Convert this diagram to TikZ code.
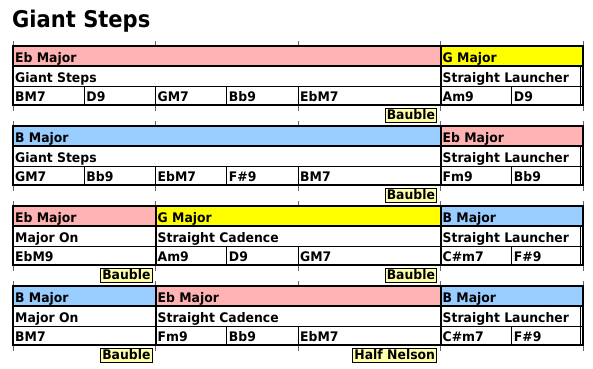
\documentclass[tikz,border=0pt]{standalone}
\usepackage{fontspec}
\setmainfont{DejaVu Sans}[FakeStretch=0.94]
\newfontfamily\titlefont{DejaVu Sans}[FakeStretch=0.915]
\definecolor{pinkkey}{HTML}{FFB3B3}
\definecolor{bluekey}{HTML}{99CCFF}
\definecolor{yellowkey}{HTML}{FFFF00}
\definecolor{tagfill}{HTML}{FFFFAA}
\definecolor{tickgray}{HTML}{666666}
\tikzset{
 lbl/.style={inner sep=0pt, anchor=base west, font=\fontsize{13.2}{15}\selectfont\bfseries},
 frameline/.style={line width=2pt},
 ruleline/.style={line width=1pt},
 tickline/.style={line width=1pt, draw=tickgray},
 tagbox/.style={draw, line width=1pt, fill=tagfill, inner xsep=1.5pt, inner ysep=0.6pt,
   text height=10.2pt, text depth=2.6pt, anchor=north east,
   font=\fontsize{13.2}{15}\selectfont\bfseries}
}
% #1 name, #2 x1, #3 x2, #4 top, #5 fill, #6 key, #7 section
\newcommand\gsFrame[7]{%
 \fill[#5] (#2,#4) rectangle (#3,#4+20);
 \draw[ruleline] (#2,#4+40.5) -- (#3,#4+40.5);
 \draw[frameline] (#2,#4+20) -- (#3,#4+20);
 \draw[frameline] (#2,#4) rectangle (#3,#4+59);
 \node[lbl] (#1key) at (#2+2,#4+16.7) {#6};
 \node[lbl] (#1sec) at (#2+2,#4+36.7) {#7};
}
% #1 name, #2 x, #3 top, #4 text
\newcommand\gsChord[4]{%
 \draw[ruleline] (#2,#3+40.5) -- (#2,#3+59);
 \node[lbl] (#1) at (#2+2,#3+55.7) {#4};
}
% #1 top
\newcommand\gsInner[1]{%
 \draw[ruleline] (580.5,#1+20) -- (580.5,#1+59);
}
\begin{document}
\begin{tikzpicture}[x=1pt,y=-1pt]
\useasboundingbox (0,0) rectangle (593,368);
\node[inner sep=0pt, anchor=base west, font=\fontsize{23}{26}\titlefont\bfseries] (title) at (12,27) {Giant Steps};

\foreach \t in {46,126,206,286}{
  \foreach \bx in {13,155.5,298,440.5,583}{
    \draw[tickline] (\bx,\t-5) -- (\bx,\t);
    \draw[tickline] (\bx,\t+59) -- (\bx,\t+65);
  }
}

% Row 1
\gsFrame{ra}{13}{440.5}{46}{pinkkey}{Eb Major}{Giant Steps}
\gsChord{raa}{13}{46}{BM7}
\gsChord{rab}{84.25}{46}{D9}
\gsChord{rac}{155.5}{46}{GM7}
\gsChord{rad}{226.75}{46}{Bb9}
\gsChord{rae}{298}{46}{EbM7}
\gsFrame{rb}{440.5}{583}{46}{yellowkey}{G Major}{Straight Launcher}
\gsChord{rba}{440.5}{46}{Am9}
\gsChord{rbb}{511.75}{46}{D9}
\gsInner{46}
\node[tagbox] (tagA) at (437,46+62.2) {Bauble};

% Row 2
\gsFrame{sa}{13}{440.5}{126}{bluekey}{B Major}{Giant Steps}
\gsChord{saa}{13}{126}{GM7}
\gsChord{sab}{84.25}{126}{Bb9}
\gsChord{sac}{155.5}{126}{EbM7}
\gsChord{sad}{226.75}{126}{F\#9}
\gsChord{sae}{298}{126}{BM7}
\gsFrame{sb}{440.5}{583}{126}{pinkkey}{Eb Major}{Straight Launcher}
\gsChord{sba}{440.5}{126}{Fm9}
\gsChord{sbb}{511.75}{126}{Bb9}
\gsInner{126}
\node[tagbox] (tagB) at (437,126+62.2) {Bauble};

% Row 3
\gsFrame{ta}{13}{155.5}{206}{pinkkey}{Eb Major}{Major On}
\gsChord{taa}{13}{206}{EbM9}
\gsFrame{tb}{155.5}{440.5}{206}{yellowkey}{G Major}{Straight Cadence}
\gsChord{tba}{155.5}{206}{Am9}
\gsChord{tbb}{226.75}{206}{D9}
\gsChord{tbc}{298}{206}{GM7}
\gsFrame{tc}{440.5}{583}{206}{bluekey}{B Major}{Straight Launcher}
\gsChord{tca}{440.5}{206}{C\#m7}
\gsChord{tcb}{511.75}{206}{F\#9}
\gsInner{206}
\node[tagbox] (tagC) at (152.5,206+62.2) {Bauble};
\node[tagbox] (tagD) at (437,206+62.2) {Bauble};

% Row 4
\gsFrame{ua}{13}{155.5}{286}{bluekey}{B Major}{Major On}
\gsChord{uaa}{13}{286}{BM7}
\gsFrame{ub}{155.5}{440.5}{286}{pinkkey}{Eb Major}{Straight Cadence}
\gsChord{uba}{155.5}{286}{Fm9}
\gsChord{ubb}{226.75}{286}{Bb9}
\gsChord{ubc}{298}{286}{EbM7}
\gsFrame{uc}{440.5}{583}{286}{bluekey}{B Major}{Straight Launcher}
\gsChord{uca}{440.5}{286}{C\#m7}
\gsChord{ucb}{511.75}{286}{F\#9}
\gsInner{286}
\node[tagbox] (tagE) at (152.5,286+62.2) {Bauble};
\node[tagbox] (tagF) at (437,286+62.2) {Half Nelson};
\end{tikzpicture}
\end{document}
